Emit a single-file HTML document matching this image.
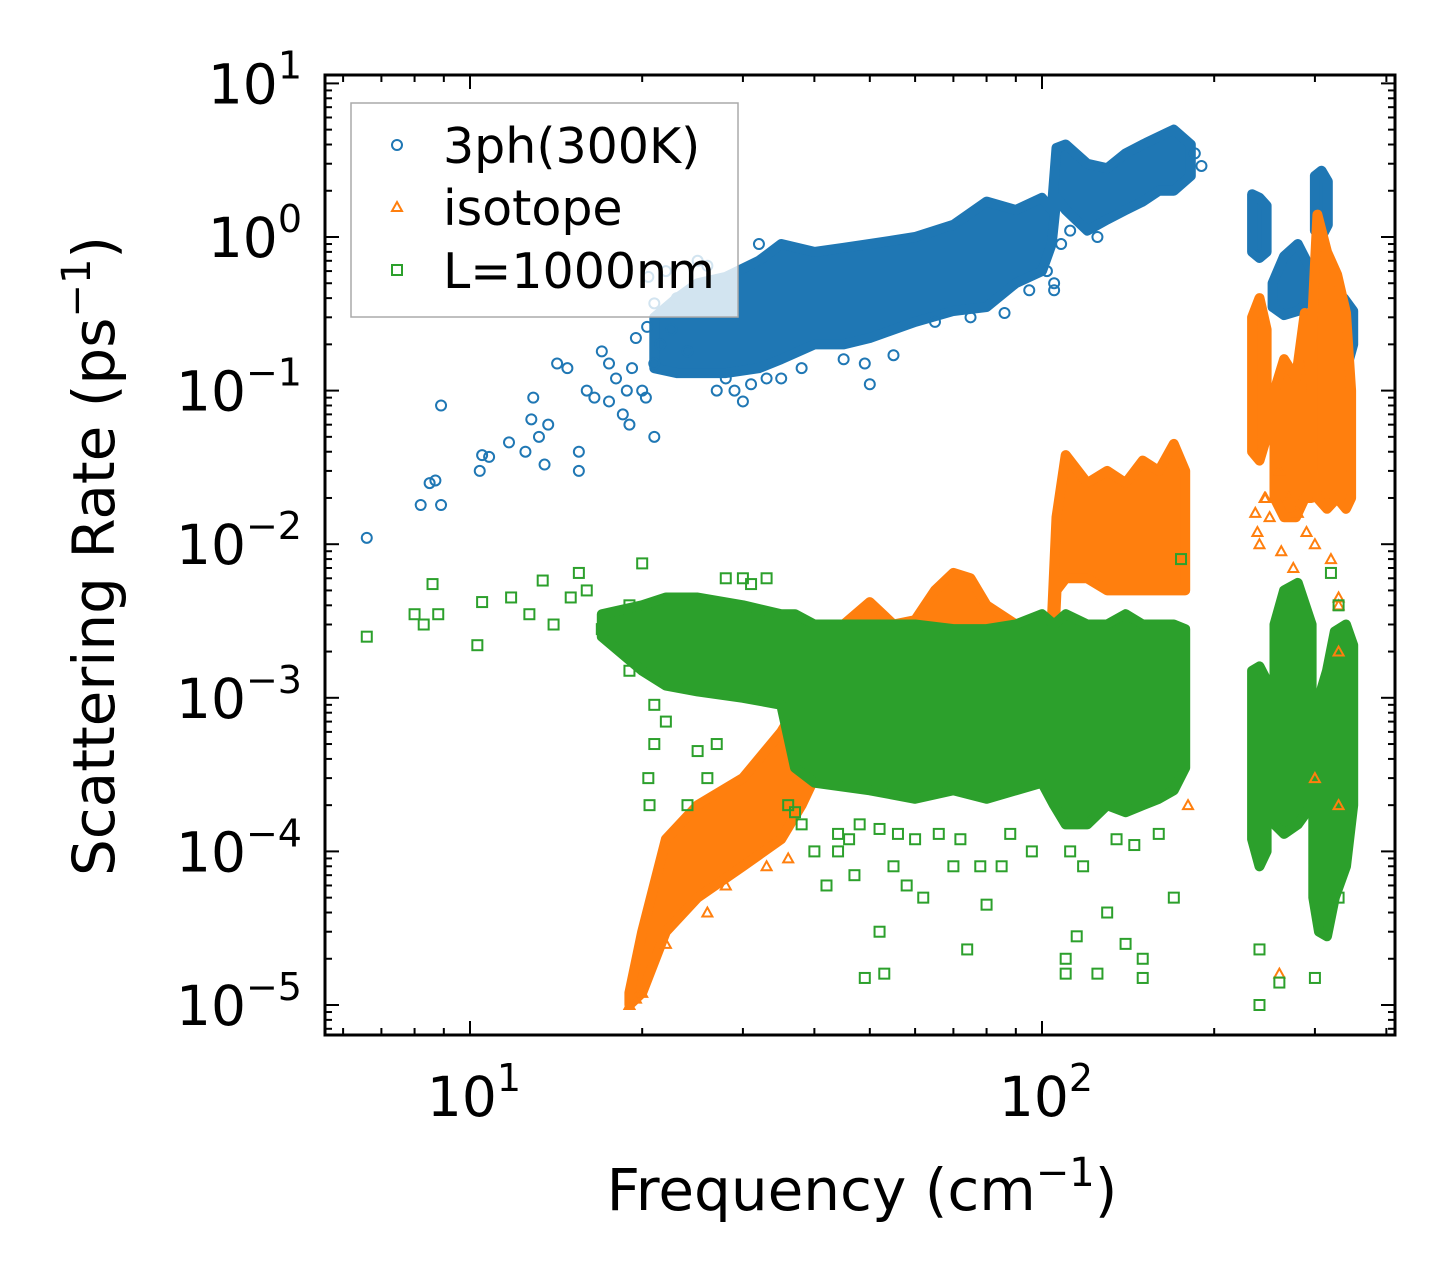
<!DOCTYPE html>
<html>
<head>
<meta charset="utf-8">
<style>
html,body{margin:0;padding:0;background:#fff;}
svg{display:block;font-family:"DejaVu Sans","Liberation Sans",sans-serif;}
</style>
</head>
<body>
<svg id="chart" width="1455" height="1284" viewBox="0 0 1455 1284" xmlns="http://www.w3.org/2000/svg">
  <rect x="0" y="0" width="1455" height="1284" fill="#fff"/>
  <g id="bands"></g>
  <g id="marks"></g>
  <g id="axes"></g>
  <rect x="325" y="75" width="1070" height="960" fill="none" stroke="#000" stroke-width="3"/>
  <text x="0" y="0" transform="translate(114,556) rotate(-90)" text-anchor="middle" font-size="58">Scattering Rate (ps<tspan dy="-24" font-size="40">−1</tspan><tspan dy="24">)</tspan></text>
  <text x="862" y="1210" text-anchor="middle" font-size="58">Frequency (cm<tspan dy="-24" font-size="40">−1</tspan><tspan dy="24">)</tspan></text>
  <g>
    <rect x="351" y="103" width="387" height="214" fill="#fff" fill-opacity="0.8" stroke="#aaa" stroke-width="1.5"/>
    <circle cx="397" cy="145" r="5" fill="none" stroke="#1f77b4" stroke-width="2"/>
    <text x="443" y="163" font-size="49">3ph(300K)</text>
    <path d="M397,202 L402,211 L392,211 Z" fill="none" stroke="#ff7f0e" stroke-width="2"/>
    <text x="443" y="225" font-size="49">isotope</text>
    <rect x="392" y="265" width="10" height="10" fill="none" stroke="#2ca02c" stroke-width="2"/>
    <text x="443" y="288" font-size="49">L=1000nm</text>
  </g>
</svg>
<script>
// ---- axis domain ----
const xTickVals = [10, 100];
const yTickExps = [1, 0, -1, -2, -3, -4, -5];

// ---- blue (3ph) sparse points ----
const blueX = [6.6,8.2,8.5,8.7,8.9,8.9,10.4,10.5,10.8,11.7,12.5,12.8,12.9,13.2,13.5,13.7,14.2,14.8,15.5,15.5,16,16.5,17,17.5,18,18.5,19,19.5,20,20.3,21,21,20.5,21,22,23,25,26,27,28,30,32,35,50,49,105,105,190,185,17.5,18.8,19.2,20.4,21.5,22.5,24,29,31,33,38,45,55,65,75,86,95,102,108,112,125];
const blueY = [0.011,0.018,0.025,0.026,0.018,0.08,0.03,0.038,0.037,0.046,0.04,0.065,0.09,0.05,0.033,0.06,0.15,0.14,0.04,0.03,0.1,0.09,0.18,0.15,0.12,0.07,0.06,0.22,0.1,0.09,0.05,0.15,0.55,0.37,0.6,0.4,0.7,0.65,0.1,0.12,0.085,0.9,0.12,0.11,0.15,0.45,0.5,2.9,3.5,0.085,0.1,0.14,0.26,0.2,0.25,0.18,0.1,0.11,0.12,0.14,0.16,0.17,0.28,0.3,0.32,0.45,0.6,0.9,1.1,1.0];
// blue dense regions
const blueMainX  = [21,23,25,28,32,35,40,45,50,60,70,80,90,100,104,106,110,120,130,140,150,160,170,182];
const blueMainLo = [0.14,0.13,0.13,0.13,0.14,0.16,0.2,0.2,0.22,0.28,0.33,0.35,0.5,0.6,0.9,1.8,1.5,1.1,1.3,1.5,1.7,2.0,2.0,2.5];
const blueMainHi = [0.3,0.4,0.5,0.55,0.7,0.9,0.8,0.85,0.9,1.0,1.2,1.7,1.5,1.8,1.5,3.8,4.0,3.0,2.8,3.5,4.0,4.5,5.0,4.0];
const blueC1X = [233,240,247]; const blueC1Lo = [0.8,0.73,0.8]; const blueC1Hi = [1.9,1.8,1.6];
const blueC2X = [253,265,280,296]; const blueC2Lo = [0.35,0.31,0.33,0.4]; const blueC2Hi = [0.5,0.75,0.9,0.6];
const blueC3X = [300,308,316]; const blueC3Lo = [1.1,1.0,1.2]; const blueC3Hi = [2.5,2.7,2.3];
const blueC4X = [325,337,350]; const blueC4Lo = [0.15,0.12,0.2]; const blueC4Hi = [0.42,0.4,0.33];

// ---- orange (isotope) ----
const orangeX = [240,245,250,260,270,280,300,320,330,330,330,180,260,300,330,19,19.5,20,22,26,28,33,36,236,238,246,262,275,290];
const orangeY = [0.01,0.02,0.015,0.03,0.02,0.016,0.01,0.008,0.004,0.0045,0.002,0.0002,0.000016,0.0003,0.0002,0.00001,0.000011,0.000012,0.000025,0.00004,0.00006,0.00008,0.00009,0.016,0.012,0.02,0.009,0.007,0.012];
const orangeMainX  = [19,20,22,25,30,35,38,40,45,50,55,60,65,70,75,80,90,100,104,106,110,120,130,140,150,160,170,178];
const orangeMainLo = [0.00001,0.000012,0.00003,0.00005,0.00008,0.00012,0.0002,0.0003,0.0004,0.0005,0.0005,0.0005,0.0008,0.001,0.001,0.001,0.001,0.001,0.001,0.005,0.006,0.006,0.005,0.005,0.005,0.005,0.005,0.005];
const orangeMainHi = [0.000012,0.00003,0.00012,0.0002,0.0003,0.0006,0.001,0.0015,0.003,0.0042,0.003,0.0032,0.005,0.0065,0.006,0.004,0.003,0.003,0.003,0.015,0.038,0.025,0.03,0.025,0.035,0.03,0.045,0.03];
const orangeC1X = [233,240,247]; const orangeC1Lo = [0.04,0.035,0.05]; const orangeC1Hi = [0.3,0.4,0.25];
const orangeC2X = [255,265,278,288,296]; const orangeC2Lo = [0.02,0.015,0.015,0.02,0.02]; const orangeC2Hi = [0.1,0.16,0.12,0.32,0.1];
const orangeC3X = [297,303,315,328,340,347]; const orangeC3Lo = [0.03,0.02,0.017,0.02,0.017,0.02]; const orangeC3Hi = [0.3,1.4,0.8,0.57,0.32,0.1];

// ---- green (boundary L=1000nm) ----
const greenX = [6.6,8.0,8.3,8.6,8.8,10.3,10.5,11.8,12.7,13.4,14,15,15.5,16,17,19,19,20,20.5,20.6,21,21,22,24,25,26,27,28,30,31,33,36,40,42,44,47,49,52,53,55,58,62,70,74,78,80,85,96,110,110,115,125,130,140,150,150,170,175,240,240,260,300,320,330,330,37,38,44,46,48,52,56,60,66,72,88,112,118,135,145,160];
const greenY = [0.0025,0.0035,0.003,0.0055,0.0035,0.0022,0.0042,0.0045,0.0035,0.0058,0.003,0.0045,0.0065,0.005,0.0028,0.0015,0.004,0.0075,0.0003,0.0002,0.0005,0.0009,0.0007,0.0002,0.00045,0.0003,0.0005,0.006,0.006,0.0055,0.006,0.0002,0.0001,0.00006,0.0001,0.00007,0.000015,0.00003,0.000016,0.00008,0.00006,0.00005,0.00008,0.000023,0.00008,0.000045,0.00008,0.0001,0.00002,0.000016,0.000028,0.000016,0.00004,0.000025,0.000015,0.00002,0.00005,0.008,0.000023,0.00001,0.000014,0.000015,0.0065,0.00005,0.004,0.00018,0.00015,0.00013,0.00012,0.00015,0.00014,0.00013,0.00012,0.00013,0.00012,0.00013,0.0001,0.00008,0.00012,0.00011,0.00013];
const greenMainX  = [17,20,22,25,30,35,37,40,50,60,70,80,90,100,105,110,120,130,140,150,160,170,178];
const greenMainLo = [0.0025,0.0015,0.0012,0.0011,0.001,0.0009,0.00035,0.00028,0.00025,0.00022,0.00025,0.00022,0.00025,0.00028,0.0002,0.00015,0.00015,0.0002,0.00018,0.0002,0.00022,0.00025,0.00035];
const greenMainHi = [0.0035,0.004,0.0045,0.0045,0.004,0.0035,0.0035,0.003,0.003,0.003,0.0028,0.0028,0.003,0.0035,0.003,0.0035,0.003,0.003,0.0035,0.003,0.003,0.003,0.0028];
const greenC1X = [233,240,247]; const greenC1Lo = [0.00012,0.00008,0.0001]; const greenC1Hi = [0.0015,0.0016,0.0013];
const greenC2X = [255,265,280,296]; const greenC2Lo = [0.00015,0.00013,0.00015,0.0002]; const greenC2Hi = [0.003,0.005,0.0056,0.003];
const greenC3X = [298,305,315,325,340,350]; const greenC3Lo = [0.00005,0.00003,0.000028,0.00005,0.00008,0.0002]; const greenC3Hi = [0.0009,0.001,0.0015,0.0027,0.003,0.0022];

// ---- scales ----
const X0 = 325, X1 = 1395, Y0 = 75, Y1 = 1035;
const xPx10 = 470, xDec = 572;
const yPx0 = 237, yDec = 153.6;
function xs(v){ return xPx10 + (Math.log10(v) - 1) * xDec; }
function ys(v){ return yPx0 - Math.log10(v) * yDec; }

const NS = "http://www.w3.org/2000/svg";
const bands = document.getElementById('bands');
const marks = document.getElementById('marks');
const axes = document.getElementById('axes');
const COLORS = {blue:'#1f77b4', orange:'#ff7f0e', green:'#2ca02c'};

function band(xa, lo, hi, color, name){
  let pts = [];
  for (let i = 0; i < xa.length; i++) pts.push(xs(xa[i]).toFixed(1) + ',' + ys(hi[i]).toFixed(1));
  for (let i = xa.length - 1; i >= 0; i--) pts.push(xs(xa[i]).toFixed(1) + ',' + ys(lo[i]).toFixed(1));
  const p = document.createElementNS(NS, 'polygon');
  p.setAttribute('points', pts.join(' '));
  p.setAttribute('fill', color);
  p.setAttribute('stroke', color);
  p.setAttribute('stroke-width', '10');
  p.setAttribute('stroke-linejoin', 'round');
  
  
  bands.appendChild(p);
}
function points(xa, ya, kind, color, name){
  for (let i = 0; i < xa.length; i++){
    const cx = xs(xa[i]), cy = ys(ya[i]);
    let el;
    if (kind === 'circle'){
      el = document.createElementNS(NS, 'circle');
      el.setAttribute('cx', cx); el.setAttribute('cy', cy); el.setAttribute('r', 5);
    } else if (kind === 'tri'){
      el = document.createElementNS(NS, 'path');
      el.setAttribute('d', `M${cx},${cy-5} L${cx+5},${cy+4} L${cx-5},${cy+4} Z`);
    } else {
      el = document.createElementNS(NS, 'rect');
      el.setAttribute('x', cx-5); el.setAttribute('y', cy-5); el.setAttribute('width', 10); el.setAttribute('height', 10);
    }
    el.setAttribute('fill', 'none');
    el.setAttribute('stroke', color);
    el.setAttribute('stroke-width', '2');
    
    
    marks.appendChild(el);
  }
}

// blue
band(blueMainX, blueMainLo, blueMainHi, COLORS.blue, '3ph-dense-main');
band(blueC1X, blueC1Lo, blueC1Hi, COLORS.blue, '3ph-cluster-240');
band(blueC2X, blueC2Lo, blueC2Hi, COLORS.blue, '3ph-cluster-275');
band(blueC3X, blueC3Lo, blueC3Hi, COLORS.blue, '3ph-cluster-308');
band(blueC4X, blueC4Lo, blueC4Hi, COLORS.blue, '3ph-cluster-337');
// orange
band(orangeMainX, orangeMainLo, orangeMainHi, COLORS.orange, 'isotope-dense-main');
band(orangeC1X, orangeC1Lo, orangeC1Hi, COLORS.orange, 'isotope-cluster-240');
band(orangeC2X, orangeC2Lo, orangeC2Hi, COLORS.orange, 'isotope-cluster-275');
band(orangeC3X, orangeC3Lo, orangeC3Hi, COLORS.orange, 'isotope-cluster-320');
// green
band(greenMainX, greenMainLo, greenMainHi, COLORS.green, 'boundary-dense-main');
band(greenC1X, greenC1Lo, greenC1Hi, COLORS.green, 'boundary-cluster-240');
band(greenC2X, greenC2Lo, greenC2Hi, COLORS.green, 'boundary-cluster-275');
band(greenC3X, greenC3Lo, greenC3Hi, COLORS.green, 'boundary-cluster-320');

points(blueX, blueY, 'circle', COLORS.blue, '3ph-point');
points(orangeX, orangeY, 'tri', COLORS.orange, 'isotope-point');
points(greenX, greenY, 'square', COLORS.green, 'boundary-point');

// ---- axes ticks ----
function line(x1,y1,x2,y2,w,name){
  const l = document.createElementNS(NS, 'line');
  l.setAttribute('x1',x1); l.setAttribute('y1',y1); l.setAttribute('x2',x2); l.setAttribute('y2',y2);
  l.setAttribute('stroke','#000'); l.setAttribute('stroke-width',w);
  
  
  axes.appendChild(l);
}
function label(x,y,exp,anchor,name){
  const t = document.createElementNS(NS, 'text');
  t.setAttribute('x', x); t.setAttribute('y', y);
  t.setAttribute('text-anchor', anchor);
  t.setAttribute('font-size', '55');
  
  
  t.innerHTML = '10<tspan dy="-25" font-size="38">' + (exp < 0 ? '−' + (-exp) : exp) + '</tspan>';
  axes.appendChild(t);
}
// x major/minor
for (let d = 0; d <= 2; d++){
  for (let m = 1; m <= 9; m++){
    const v = m * Math.pow(10, d);
    const px = xs(v);
    if (px < X0 || px > X1) continue;
    const len = m === 1 ? 14 : 7;
    line(px, Y1, px, Y1 - len, 2, 'x-tick-bottom');
    line(px, Y0, px, Y0 + len, 2, 'x-tick-top');
  }
}
xTickVals.forEach(v => label(xs(v) + 4, 1116, Math.round(Math.log10(v)), 'middle', 'x-tick-label'));
// y major/minor
for (let e = -6; e <= 1; e++){
  for (let m = 1; m <= 9; m++){
    const v = m * Math.pow(10, e);
    const py = ys(v);
    if (py < Y0 || py > Y1) continue;
    const len = m === 1 ? 14 : 7;
    line(X0, py, X0 + len, py, 2, 'y-tick-left');
    line(X1, py, X1 - len, py, 2, 'y-tick-right');
  }
}
yTickExps.forEach(e => label(302, ys(Math.pow(10, e)) + 20, e, 'end', 'y-tick-label'));
</script>
</body>
</html>
